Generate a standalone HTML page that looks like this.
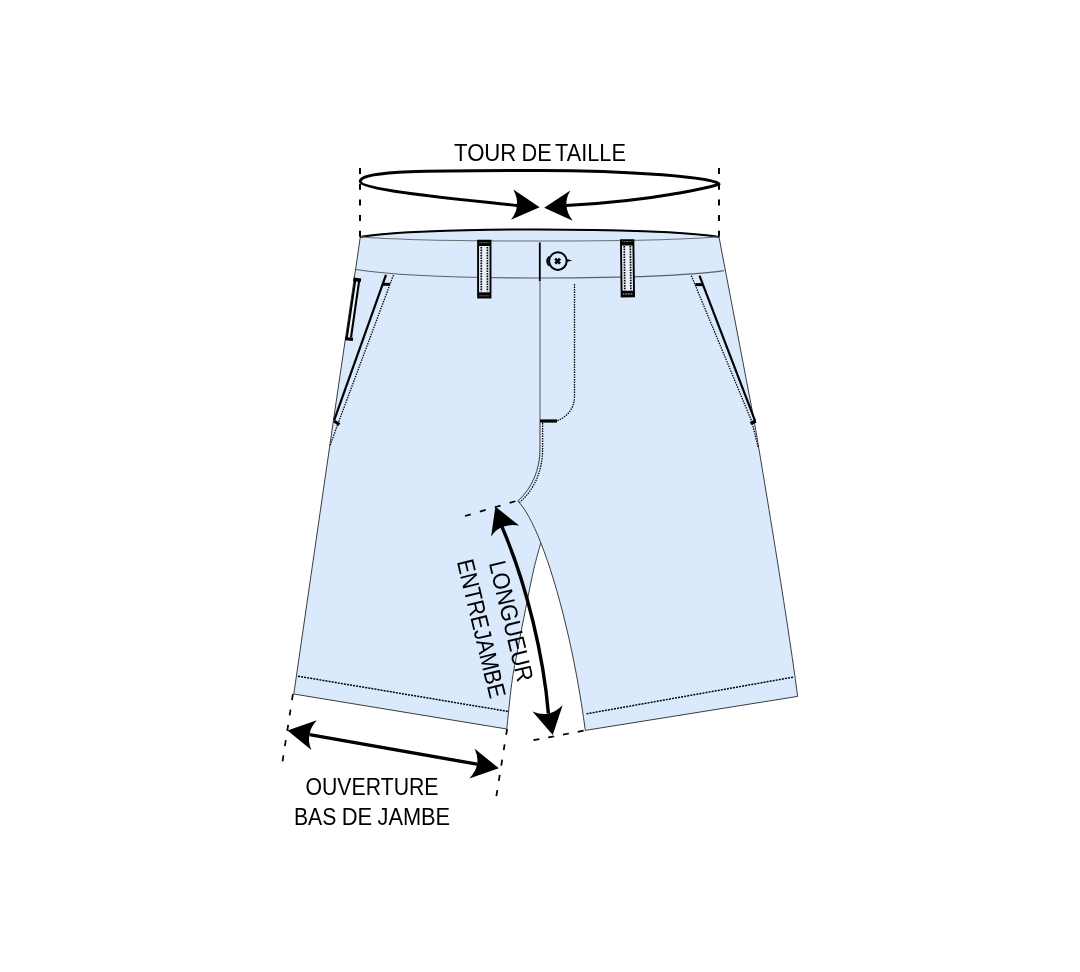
<!DOCTYPE html>
<html><head><meta charset="utf-8">
<style>
html,body{margin:0;padding:0;background:#fff;}
body{width:1080px;height:972px;overflow:hidden;position:relative;}
svg{position:absolute;left:0;top:0;will-change:transform;}
text{font-family:"Liberation Sans",sans-serif;fill:#000;}
</style></head><body>
<svg width="1080" height="972" viewBox="0 0 1080 972">
<rect width="1080" height="972" fill="#fff"/>

<!-- shorts body -->
<path d="M360.3,237 L333.5,420 L293.8,694 L506.8,729 C507.6,721.4 509.9,697.0 511.7,683.6 C513.5,670.2 515.6,661.1 517.9,648.6 C520.2,636.1 523.1,621.5 525.7,608.4 C528.3,595.3 531.1,581.0 533.6,570 C536.1,559.0 539.7,547.2 540.8,542.7 C558,586.3 575.5,656 585.3,730.4 L797.6,696.4 C788.6,625.2 762.2,467.8 754,420 L719,237 C658.8,226.7 406.1,227.2 360.3,237 Z" fill="#dbe9fc" stroke="#3a3d42" stroke-width="1"/>
<!-- crotch upper inner edge -->
<path d="M517.8,501.1 C524.9,508 532.8,522.5 540.8,542.7" fill="none" stroke="#3a3d42" stroke-width="1"/>

<!-- waistband -->
<path d="M360.3,237 C406.1,227.2 658.8,226.7 719,237" fill="none" stroke="#000" stroke-width="2"/>
<path d="M360.3,236.8 C421.8,242.5 655.3,242.4 719,236.8" fill="none" stroke="#6b6f75" stroke-width="1.1"/>
<path d="M355.9,269.5 C431.5,281.4 657.2,279.8 724.2,270.6" fill="none" stroke="#5d6066" stroke-width="1.1"/>

<!-- vertical dashed waist guides -->
<line x1="360" y1="168" x2="360" y2="237" stroke="#000" stroke-width="2" stroke-dasharray="6,9.7"/>
<line x1="719" y1="168" x2="719" y2="237" stroke="#000" stroke-width="2" stroke-dasharray="6,9.7"/>

<!-- waist ellipse -->
<path d="M517.2,205.6 C486.8,201.7 360.3,191 360.3,181.4 C360.3,170.1 439.3,170.4 539.4,170.4 C626.9,170.4 719.2,177.6 719.2,184.3 C719.2,184.5 664.3,200.3 566,205.6" fill="none" stroke="#000" stroke-width="3"/>
<path d="M539.7,207.3 L513.3,189.6 Q518.0,198.6 516.8,205.2 Q517.0,211.9 510.9,219.8 Z" fill="#000"/>
<path d="M544.2,207.7 L570.3,190.6 Q565.5,199.1 566.5,205.2 Q566.6,212.4 572.7,220.8 Z" fill="#000"/>

<!-- belt loops -->
<g stroke="#000">
<rect x="478.1" y="240.7" width="12.4" height="56.8" stroke-width="1.9" fill="#e9f1fc"/>
<rect x="478.3" y="240.8" width="12" height="5.2" fill="#000" stroke="none"/>
<rect x="478.3" y="292.3" width="12" height="5.2" fill="#000" stroke="none"/>
<line x1="479.5" y1="242.6" x2="489.5" y2="242.6" stroke="#cfd8e6" stroke-width="0.6" stroke-dasharray="1,0.6"/>
<line x1="479.5" y1="295.8" x2="489.5" y2="295.8" stroke="#cfd8e6" stroke-width="0.6" stroke-dasharray="1,0.6"/>
<line x1="481.3" y1="247" x2="481.3" y2="291.5" stroke-width="1.7" stroke-dasharray="1.6,1"/>
<line x1="487.4" y1="247" x2="487.4" y2="291.5" stroke-width="1.7" stroke-dasharray="1.6,1"/>
</g>
<g stroke="#000" transform="rotate(-0.7 627 268)">
<rect x="621.3" y="240.2" width="12.4" height="56.3" stroke-width="1.9" fill="#e9f1fc"/>
<rect x="621.5" y="240.3" width="12" height="5.2" fill="#000" stroke="none"/>
<rect x="621.5" y="290.8" width="12" height="5.4" fill="#000" stroke="none"/>
<line x1="622.7" y1="241.6" x2="632.7" y2="241.6" stroke="#cfd8e6" stroke-width="0.6" stroke-dasharray="1,0.6"/>
<line x1="622.7" y1="294" x2="632.7" y2="294" stroke="#dfe7f3" stroke-width="0.9" stroke-dasharray="1,0.6"/>
<line x1="624.5" y1="246" x2="624.5" y2="290.5" stroke-width="1.7" stroke-dasharray="1.6,1"/>
<line x1="630.6" y1="246" x2="630.6" y2="290.5" stroke-width="1.7" stroke-dasharray="1.6,1"/>
</g>

<!-- side loop left -->
<path d="M355.2,280.5 L359.2,280.5 L351,337.5 L346.8,337.5 Z" fill="#eef4fd" stroke="none"/>
<path d="M355.2,280.5 L346.8,337.5 M359.2,280.5 L351,337.5" stroke="#000" stroke-width="2.1" fill="none"/>
<path d="M353.4,277.6 L361.2,278.4 L360.8,282 L353.2,281.2 Z M345.2,337 L353.2,337.8 L352.8,341 L345,340.2 Z" fill="#000"/>

<!-- front centre line -->
<line x1="539.8" y1="242.5" x2="539.8" y2="281" stroke="#000" stroke-width="1.8"/>
<line x1="540" y1="281" x2="540" y2="421" stroke="#6b6f75" stroke-width="1.2"/>
<!-- fly stitch -->
<path d="M574.5,284 L574.5,396 C574.5,410 566,417 557,421" fill="none" stroke="#000" stroke-width="1.3" stroke-dasharray="1.4,1.1"/>
<!-- bar tack -->
<line x1="540" y1="421" x2="557" y2="421" stroke="#000" stroke-width="3.2"/>
<!-- crotch seam -->
<path d="M540,421 L540,449 C540,470 532,488 517.8,501.1" fill="none" stroke="#3a3d42" stroke-width="1"/>
<path d="M542.6,423 L542.6,449 C542.6,471 534,490 519.5,502.5" fill="none" stroke="#000" stroke-width="1.3" stroke-dasharray="1.4,1.1"/>

<!-- button -->
<circle cx="557.9" cy="261.1" r="8.8" fill="none" stroke="#000" stroke-width="2"/>
<path d="M549.2,256.6 Q545.2,261.1 549.2,265.6" fill="none" stroke="#000" stroke-width="1.9"/>
<path d="M555.2,258.6 L560,263.6 M560,258.6 L555.2,263.6" stroke="#000" stroke-width="2.8"/>
<path d="M566.6,258.9 L572.4,260.4 L566.6,261.9 Z" fill="#000"/>

<!-- pockets -->
<line x1="386" y1="274.8" x2="334.2" y2="420.1" stroke="#000" stroke-width="2.2"/>
<line x1="382.5" y1="284.3" x2="389.7" y2="284.3" stroke="#000" stroke-width="3"/>
<line x1="334" y1="421" x2="339.5" y2="424.5" stroke="#000" stroke-width="3.2"/>
<path d="M393.4,275.2 L337.5,425 L329.9,446" fill="none" stroke="#000" stroke-width="1.3" stroke-dasharray="1.4,1.1"/>

<line x1="699.5" y1="275.7" x2="755.1" y2="420.8" stroke="#000" stroke-width="2.2"/>
<line x1="695.4" y1="284.6" x2="702.6" y2="284.6" stroke="#000" stroke-width="3"/>
<line x1="750.5" y1="423.5" x2="755.8" y2="421" stroke="#000" stroke-width="3.2"/>
<path d="M691.3,275.7 L752,422 L758.2,447.5" fill="none" stroke="#000" stroke-width="1.3" stroke-dasharray="1.4,1.1"/>

<!-- hem stitches -->
<line x1="298" y1="676.2" x2="508.3" y2="711.5" stroke="#000" stroke-width="1.5" stroke-dasharray="2,1.1"/>
<line x1="586.5" y1="713.8" x2="793.9" y2="677" stroke="#000" stroke-width="1.5" stroke-dasharray="2,1.1"/>

<!-- hem dashed guides -->
<line x1="292.9" y1="694.2" x2="282.5" y2="761.6" stroke="#000" stroke-width="1.75" stroke-dasharray="6,9.5"/>
<line x1="507.1" y1="729" x2="496.3" y2="796.5" stroke="#000" stroke-width="1.75" stroke-dasharray="6,9.5"/>

<!-- ouverture arrow -->
<line x1="309.6" y1="734.7" x2="477" y2="764.2" stroke="#000" stroke-width="3.3"/>
<path d="M287.5,730.6 L316.8,720.3 Q310.1,727.9 309.6,734.7 Q307.7,741.0 311.4,750.1 Z" fill="#000"/>
<path d="M498.8,768.3 L474.7,748.7 Q478.6,757.9 477.0,764.2 Q476.2,771.0 469.3,778.6 Z" fill="#000"/>

<!-- crotch guides -->
<line x1="465" y1="516" x2="517.5" y2="500.6" stroke="#000" stroke-width="1.75" stroke-dasharray="6,9.5"/>
<line x1="533.5" y1="740.2" x2="585.3" y2="730.4" stroke="#000" stroke-width="1.75" stroke-dasharray="6,9"/>

<!-- entrejambe arrow -->
<path d="M502.1,527.2 C527.5,586.1 543.7,658.2 548.4,713.5" fill="none" stroke="#000" stroke-width="3.4"/>
<path d="M495.4,506.6 L519.1,525.6 Q508.8,524.0 502.1,527.2 Q496.5,528.8 491.1,536.4 Z" fill="#000"/>
<path d="M552.8,734.9 L532.5,711.5 Q541.9,715.2 548.4,713.5 Q555.2,712.5 562.6,705.3 Z" fill="#000"/>

<!-- texts -->
<text x="0" y="161" font-size="24.5" transform="translate(454 0) scale(0.9045 1)">TOUR</text>
<text x="0" y="161" font-size="24.5" transform="translate(521.5 0) scale(0.8868 1)">DE</text>
<text x="0" y="161" font-size="24.5" transform="translate(555 0) scale(0.8878 1)">TAILLE</text>
<text x="0" y="794.7" font-size="24" transform="translate(305.5 0) scale(0.8855 1)">OUVERTURE</text>
<text x="0" y="825" font-size="24" transform="translate(294 0) scale(0.8806 1)">BAS</text>
<text x="0" y="825" font-size="24" transform="translate(341.75 0) scale(0.9156 1)">DE</text>
<text x="0" y="825" font-size="24" transform="translate(377.5 0) scale(0.9081 1)">JAMBE</text>
<g transform="translate(489.1 564.3) rotate(76.5)"><text x="-1.49" y="0" font-size="24" transform="scale(0.9095 1)">LONGUEUR</text></g>
<g transform="translate(457.1 562.7) rotate(76.5)"><text x="-1.47" y="0" font-size="24" transform="scale(0.8797 1)">ENTREJAMBE</text></g>
</svg>
</body></html>
